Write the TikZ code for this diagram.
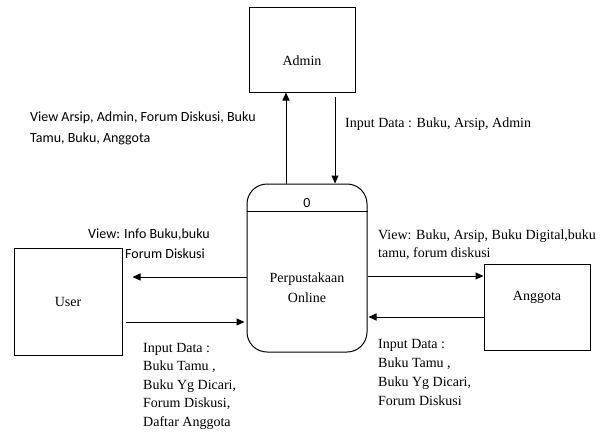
\documentclass[tikz,border=0pt]{standalone}
\usepackage{fontspec}
\setmainfont{Liberation Serif}
\newfontfamily\calfont{Carlito}
\usetikzlibrary{arrows.meta,calc}
\begin{document}
\begin{tikzpicture}[x=1pt,y=-1pt,
  every node/.style={font=\fontsize{14}{18.5}\selectfont, inner sep=0pt},
  ent/.style={draw, line width=1pt, rectangle},
  arr/.style={line width=1pt, -{Triangle[length=8pt,width=7pt]}},
  lbl/.style={anchor=north west, align=left},
  cal/.style={font=\calfont\fontsize{14}{21}\selectfont}
]
\useasboundingbox (0,0) rectangle (608,432);
% entities
\node[ent, minimum width=106pt, minimum height=85pt, text height=32pt, text depth=0pt] (admin) at (302,49.5) {Admin};
\node[ent, minimum width=108pt, minimum height=107pt] (user) at (68,301.5) {User};
\node[ent, minimum width=106pt, minimum height=86pt, text height=0pt, text depth=13pt] (anggota) at (537,307) {Anggota};
% process
\node[draw, line width=1pt, rounded corners=20pt, minimum width=120pt, minimum height=168pt] (proc) at (307,268) {};
\draw[line width=1pt] ($(proc.north west)+(0,28)$) -- ($(proc.north east)+(0,28)$);
\node[cal, anchor=base] (pid) at (307,207) {0};
\node[align=center, font=\fontsize{14}{20}\selectfont] (ptxt) at (307,288) {Perpustakaan\\Online};
% flows
\draw[arr] ($(proc.north)+(-21,0)$) -- ($(proc.north |- admin.south)+(-21,0)$);
\draw[arr] ($(proc.north |- admin.south)+(28,4)$) -- ($(proc.north)+(28,0)$);
\draw[arr] ($(proc.west)+(0,9)$) -- ($(user.east |- proc.west)+(10,9)$);
\draw[arr] ($(user.east |- proc.west)+(3,54)$) -- ($(proc.west)+(-2,54)$);
\draw[arr] ($(proc.east)+(0,8)$) -- ($(anggota.west |- proc.east)+(0,8)$);
\draw[arr] ($(anggota.west |- proc.east)+(0,49)$) -- ($(proc.east)+(1,49)$);
% labels
\node[lbl, cal] (l1) at (30,112) {View Arsip, Admin, Forum Diskusi, Buku\\Tamu, Buku, Anggota};
\node[lbl] (l2) at (345,118) {Input Data : Buku, Arsip, Admin};
\node[lbl, font=\calfont\fontsize{14}{20}\selectfont] (l3) at (88,229) {View: Info Buku,buku\\\hspace*{37pt}Forum Diskusi};
\node[lbl, font=\fontsize{14}{18}\selectfont] (l4) at (378,230) {View: Buku, Arsip, Buku Digital,buku\\tamu, forum diskusi};
\node[lbl] (l5) at (143,343) {Input Data :\\Buku Tamu ,\\Buku Yg Dicari,\\Forum Diskusi,\\Daftar Anggota};
\node[lbl, font=\fontsize{14}{19}\selectfont] (l6) at (378,339) {Input Data :\\Buku Tamu ,\\Buku Yg Dicari,\\Forum Diskusi};
\end{tikzpicture}
\end{document}
